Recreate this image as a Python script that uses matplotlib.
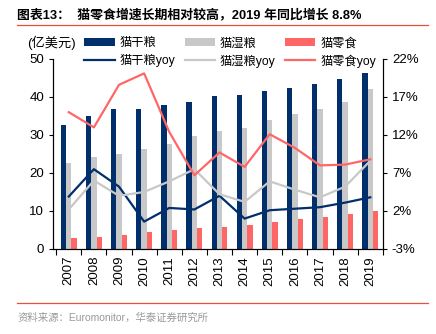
import matplotlib.pyplot as plt
import numpy as np
from matplotlib.lines import Line2D

plt.rcParams['font.family'] = ['Liberation Sans', 'Noto Sans CJK SC']
plt.rcParams['axes.unicode_minus'] = False

# 数据 (亿美元 / %)
years = ['2007', '2008', '2009', '2010', '2011', '2012', '2013',
         '2014', '2015', '2016', '2017', '2018', '2019']
dry = [32.5, 35.0, 36.8, 36.9, 37.8, 38.7, 40.2, 40.6, 41.5, 42.3, 43.4, 44.7, 46.3]
wet = [22.7, 24.2, 25.1, 26.3, 27.6, 29.7, 31.0, 31.9, 33.9, 35.4, 36.8, 38.7, 42.1]
snack = [2.8, 3.2, 3.8, 4.6, 5.0, 5.4, 5.9, 6.3, 7.2, 7.9, 8.5, 9.3, 10.1]
dry_yoy = [3.9, 7.5, 5.2, 0.6, 2.4, 2.2, 4.0, 1.0, 2.1, 2.3, 2.5, 3.1, 3.8]
wet_yoy = [2.2, 6.0, 4.0, 4.5, 5.9, 7.5, 4.2, 3.2, 5.9, 4.8, 3.8, 5.2, 8.6]
snack_yoy = [15.0, 13.0, 18.6, 20.1, 12.4, 6.7, 9.7, 7.8, 12.1, 10.3, 8.0, 8.1, 8.8]

c_dry = '#002F6C'
c_wet = '#C8C8C8'
c_snack = '#FF6666'

fig = plt.figure(figsize=(4.36, 3.34), dpi=100)
ax = fig.add_axes([0.122, 0.2545, 0.756, 0.569])
ax2 = ax.twinx()

x = np.arange(len(years))
w = 0.21
b1 = ax.bar(x - w, dry, w, color=c_dry, label='猫干粮')
b2 = ax.bar(x, wet, w, color=c_wet, label='猫湿粮')
b3 = ax.bar(x + w, snack, w, color=c_snack, label='猫零食')

l1, = ax2.plot(x, dry_yoy, color=c_dry, lw=1.6, label='猫干粮yoy')
l2, = ax2.plot(x, wet_yoy, color=c_wet, lw=1.6, label='猫湿粮yoy')
l3, = ax2.plot(x, snack_yoy, color=c_snack, lw=1.6, label='猫零食yoy')

ax.set_xlim(-0.62, 12.5)
ax.set_ylim(0, 50)
ax.set_yticks(range(0, 51, 10))
ax2.set_ylim(-3, 22)
ax2.set_yticks(range(-3, 23, 5))
ax2.set_yticklabels([f'{v}%' for v in range(-3, 23, 5)])

ax.set_xticks(x)
ax.set_xticklabels(years, rotation=90)
ax.set_xticks(np.arange(-0.5, 12.6, 1), minor=True)
ax.tick_params(axis='x', which='major', length=0, pad=5)
ax.tick_params(axis='x', which='minor', length=4, width=0.8)
ax.tick_params(axis='y', length=3, width=0.8)
ax2.tick_params(axis='y', length=3, width=0.8)
for a in (ax, ax2):
    a.tick_params(labelsize=9.5)
    a.spines['top'].set_visible(False)
    for s in ('left', 'right', 'bottom'):
        a.spines[s].set_linewidth(0.8)

# 图例
fig.legend([b1, l1, b2, l2, b3, l3],
           ['猫干粮', '猫干粮yoy', '猫湿粮', '猫湿粮yoy', '猫零食', '猫零食yoy'],
           ncol=3, loc='upper left', bbox_to_anchor=(0.193, 0.888),
           frameon=False, fontsize=8.8, handlelength=2.5, handletextpad=0.4,
           columnspacing=0.75, labelspacing=0.4, borderpad=0, borderaxespad=0)

fig.text(0.062, 0.871, '(亿美元)', fontsize=9.5, ha='left', va='center')

# 标题与来源
fig.text(0.04, 0.955, '图表13：  猫零食增速长期相对较高，2019 年同比增长 8.8%',
         fontsize=9.3, fontweight='bold', ha='left', va='center')
fig.add_artist(Line2D([0.04, 0.982], [0.925, 0.925], color='#E8503C', lw=0.9))
fig.add_artist(Line2D([0.04, 0.982], [0.093, 0.093], color='#E8503C', lw=0.9))
fig.text(0.04, 0.048, '资料来源：Euromonitor，华泰证券研究所', fontsize=7.5,
         color='#999999', ha='left', va='center')

fig.savefig('out.png', dpi=100)
